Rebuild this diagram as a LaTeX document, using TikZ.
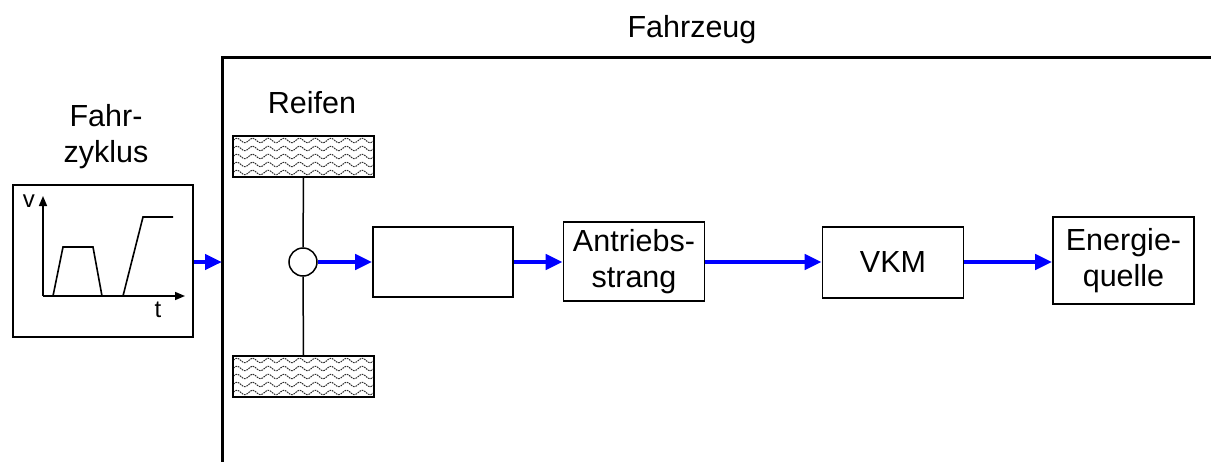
\documentclass[tikz,border=0pt]{standalone}
\usepackage{fontspec}
\setmainfont{Liberation Sans}
\usetikzlibrary{arrows.meta}
\begin{document}
\begin{tikzpicture}[x=1pt,y=-1pt,
  txt/.style={font=\fontsize{30.5}{36}\selectfont, align=center, inner sep=0pt},
  box/.style={draw, line width=1.6pt, inner sep=0pt, align=center,
    font=\fontsize{30.5}{36}\selectfont},
  flow/.style={draw=blue, line width=4.5pt, -{Triangle[length=17pt,width=15pt]}},
  axis/.style={line width=1.5pt, -{Triangle[length=10pt,width=8pt]}},
  tire/.style={draw, line width=1.6pt, fill=white, minimum width=141pt,
    minimum height=41pt, inner sep=0pt,
    path picture={
      \foreach \r in {-16,-8,0,8,16}{
        \draw[shift={(path picture bounding box.center)}, gray!35!black,
          line width=1pt, dash pattern=on 1.6pt off 0.9pt]
          plot[domain=-72:72, samples=100, smooth]
          (\x, {\r + 2.2*sin(\x*23)});
      }
    }},
  hub/.style={circle, draw, line width=1.5pt, fill=white, minimum size=28pt, inner sep=0pt}
]
\useasboundingbox (0,0) rectangle (1211,461);

% vehicle frame
\draw[line width=3pt] (1215,57) -- (222,57) -- (222,465);
\node[txt, anchor=base] (fz) at (692,37) {Fahrzeug};

% driving cycle
\node[txt] (zl) at (106,137) {Fahr-\\zyklus};
\node[box, minimum width=180pt, minimum height=152pt] (cyc) at (103,261) {};
\coordinate (o) at (43,296);
\draw[axis] (o) -- (43,196);
\draw[axis] (o) -- (185,296);
\node[font=\fontsize{24}{28}\selectfont, inner sep=0pt] (v) at (29,201) {v};
\node[font=\fontsize{24}{28}\selectfont, inner sep=0pt] (t) at (158,310) {t};
\draw[line width=1.6pt] (53,296) -- (63,247) -- (93,247) -- (102,296);
\draw[line width=1.6pt] (123,296) -- (143,217) -- (173,217);

% tyres and wheel hub
\node[txt] (rf) at (312,103) {Reifen};
\node[tire] (tt) at (303.5,156.5) {};
\node[tire] (tb) at (303.5,376.5) {};
\node[hub] (hub) at (303,262) {};
\draw[line width=1.5pt] (tt.south) -- (hub.north);
\draw[line width=1.5pt] (hub.south) -- (tb.north);

% drive chain blocks
\node[box, minimum width=140pt, minimum height=70pt] (b1) at (443,262) {};
\node[box, minimum width=141pt, minimum height=79pt] (as) at (634,261.5) {Antriebs-\\strang};
\node[box, minimum width=141pt, minimum height=71pt] (vkm) at (893,262.5) {VKM};
\node[box, minimum width=141pt, minimum height=87pt] (eq) at (1123.5,260.5) {Energie-\\quelle};

% energy flow
\coordinate (fin) at (222,262);
\draw[flow] (cyc.east |- fin) -- (fin);
\draw[flow] (hub.east) -- (b1.west);
\draw[flow] (b1.east) -- (as.west |- b1.east);
\draw[flow] (as.east |- b1.east) -- (vkm.west |- b1.east);
\draw[flow] (vkm.east |- b1.east) -- (eq.west |- b1.east);
\end{tikzpicture}
\end{document}
